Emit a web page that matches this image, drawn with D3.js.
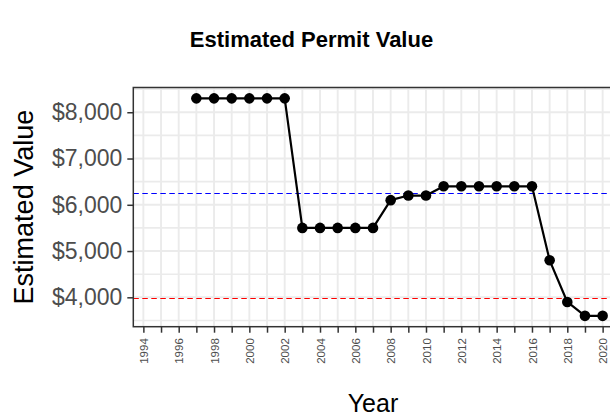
<!DOCTYPE html>
<html>
<head>
<meta charset="utf-8">
<script src="https://cdn.jsdelivr.net/npm/d3@7"></script>
<style>
  body { margin: 0; background: #fff; }
  svg { display: block; }
  text { font-family: "Liberation Sans", Arial, Helvetica, sans-serif; }
</style>
</head>
<body>
<svg id="chart" width="610" height="418"></svg>
<script>
// Estimated permit value by year
const years  = [1997, 1998, 1999, 2000, 2001, 2002, 2003, 2004, 2005, 2006, 2007, 2008,
                2009, 2010, 2011, 2012, 2013, 2014, 2015, 2016, 2017, 2018, 2019, 2020];
const values = [8300, 8300, 8300, 8300, 8300, 8300, 5500, 5500, 5500, 5500, 5500, 6100,
                6200, 6200, 6400, 6400, 6400, 6400, 6400, 6400, 4800, 3900, 3600, 3600];

// Reference levels: average value (blue) and a lower threshold (red)
const averageValue = d3.mean(values);
const thresholdValue = 3975;

// Axis breaks and labels
const yBreaks = [4000, 5000, 6000, 7000, 8000];
const yMinorBreaks = [3500, 4500, 5500, 6500, 7500, 8500];
const xBreaks = [1994, 1995, 1996, 1997, 1998, 1999, 2000, 2001, 2002, 2003, 2004, 2005, 2006,
                 2007, 2008, 2009, 2010, 2011, 2012, 2013, 2014, 2015, 2016, 2017, 2018, 2019, 2020];
const xTickLabels = ["1994", "", "1996", "", "1998", "", "2000", "", "2002", "", "2004", "", "2006",
                     "", "2008", "", "2010", "", "2012", "", "2014", "", "2016", "", "2018", "", "2020"];

const panel = { left: 133.3, top: 87.5, right: 612.7, bottom: 326.7 };
const xPad = 0.57;

const svg = d3.select("#chart");

const x = d3.scaleLinear()
  .domain([xBreaks[0] - xPad, xBreaks[xBreaks.length - 1] + xPad])
  .range([panel.left, panel.right]);

const [vMin, vMax] = d3.extent(values.concat([averageValue, thresholdValue]));
const vExp = (vMax - vMin) * 0.05;
const y = d3.scaleLinear()
  .domain([vMin - vExp, vMax + vExp])
  .range([panel.bottom, panel.top]);

const gridColor = "#EBEBEB";
const grid = svg.append("g");

grid.selectAll("line.ymin").data(yMinorBreaks).join("line")
  .attr("x1", panel.left).attr("x2", panel.right)
  .attr("y1", d => y(d)).attr("y2", d => y(d))
  .attr("stroke", gridColor).attr("stroke-width", 1.6);

grid.selectAll("line.ymaj").data(yBreaks).join("line")
  .attr("x1", panel.left).attr("x2", panel.right)
  .attr("y1", d => y(d)).attr("y2", d => y(d))
  .attr("stroke", gridColor).attr("stroke-width", 1.9);

grid.selectAll("line.xmaj").data(xBreaks).join("line")
  .attr("x1", d => x(d)).attr("x2", d => x(d))
  .attr("y1", panel.top).attr("y2", panel.bottom)
  .attr("stroke", gridColor).attr("stroke-width", 1.9);

// Dashed reference lines
const refs = [
  { v: averageValue, color: "#0000FF" },
  { v: thresholdValue, color: "#FF0000" }
];
svg.append("g").selectAll("line").data(refs).join("line")
  .attr("x1", panel.left).attr("x2", panel.right)
  .attr("y1", d => Math.round(y(d.v)) + 0.5).attr("y2", d => Math.round(y(d.v)) + 0.5)
  .attr("stroke", d => d.color)
  .attr("stroke-width", 1.1)
  .attr("stroke-dasharray", "5.5,3.5");

// Series line and points
const pts = years.map((yr, i) => ({ year: yr, value: values[i] }));
svg.append("path")
  .datum(pts)
  .attr("fill", "none")
  .attr("stroke", "#000")
  .attr("stroke-width", 2.2)
  .attr("stroke-linejoin", "round")
  .attr("d", d3.line().x(d => x(d.year)).y(d => y(d.value)));

svg.append("g").selectAll("circle").data(pts).join("circle")
  .attr("cx", d => x(d.year))
  .attr("cy", d => y(d.value))
  .attr("r", 5.3)
  .attr("fill", "#000");

// Panel border
svg.append("rect")
  .attr("x", panel.left).attr("y", panel.top)
  .attr("width", panel.right - panel.left)
  .attr("height", panel.bottom - panel.top)
  .attr("fill", "none")
  .attr("stroke", "#333333")
  .attr("stroke-width", 1.5);

// Y axis
const yAxis = svg.append("g")
  .attr("transform", `translate(${panel.left},0)`)
  .call(d3.axisLeft(y).tickValues(yBreaks).tickSize(6).tickPadding(5)
    .tickFormat(d3.format("$,.0f")));
yAxis.select(".domain").remove();
yAxis.selectAll(".tick line").attr("stroke", "#333333").attr("stroke-width", 1.5);
yAxis.selectAll(".tick text")
  .attr("fill", "#4D4D4D")
  .style("font-size", "23px");

// X axis
const xAxis = svg.append("g")
  .attr("transform", `translate(0,${panel.bottom})`)
  .call(d3.axisBottom(x).tickValues(xBreaks).tickSize(6)
    .tickFormat((d, i) => xTickLabels[i]));
xAxis.select(".domain").remove();
xAxis.selectAll(".tick line").attr("stroke", "#333333").attr("stroke-width", 1.5);
xAxis.selectAll(".tick text")
  .attr("transform", "rotate(-90)")
  .attr("text-anchor", "end")
  .attr("x", -11.5)
  .attr("y", 0)
  .attr("dy", "0.35em")
  .attr("fill", "#4D4D4D")
  .style("font-size", "11.5px");

// Titles
svg.append("text")
  .attr("x", 311.5).attr("y", 47)
  .attr("text-anchor", "middle")
  .style("font-size", "22px")
  .style("font-weight", "bold")
  .attr("fill", "#000")
  .text("Estimated Permit Value");

svg.append("text")
  .attr("x", (panel.left + panel.right) / 2).attr("y", 411.5)
  .attr("text-anchor", "middle")
  .style("font-size", "25px")
  .attr("fill", "#000")
  .text("Year");

svg.append("text")
  .attr("transform", `translate(33,${(panel.top + panel.bottom) / 2}) rotate(-90)`)
  .attr("text-anchor", "middle")
  .style("font-size", "27px")
  .attr("fill", "#000")
  .text("Estimated Value");
</script>
</body>
</html>
